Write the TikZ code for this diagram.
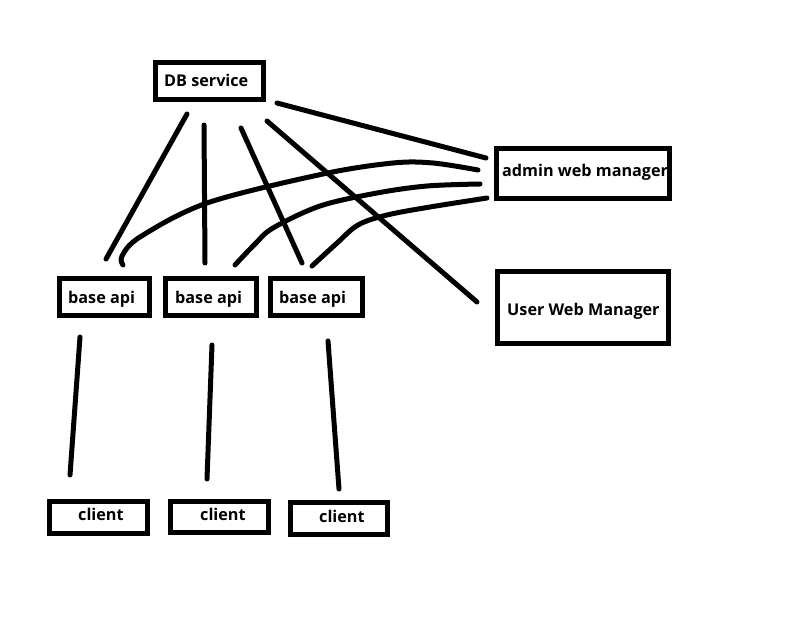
\documentclass[tikz,border=0pt]{standalone}
\usepackage{fontspec}
\setmainfont{Open Sans}
\begin{document}
\begin{tikzpicture}[x=1pt,y=-1pt,
  box/.style={draw=black,line width=5pt,fill=white,inner sep=0pt},
  lbl/.style={font=\fontsize{16.2}{18}\selectfont\bfseries,inner sep=0pt,text=black,anchor=base west},
  link/.style={line width=5pt,line cap=round,line join=round}]
\useasboundingbox[fill=white] (0,0) rectangle (787,632);
% boxes
\node[box,minimum width=108pt,minimum height=37pt] (db) at (209.5,81) {};
\node[box,minimum width=90pt,minimum height=37pt] (b1) at (104.5,297) {};
\node[box,minimum width=91pt,minimum height=37pt] (b2) at (211,297) {};
\node[box,minimum width=92pt,minimum height=37pt] (b3) at (316.5,297) {};
\node[box,minimum width=173pt,minimum height=50pt] (admin) at (583,173.5) {};
\node[box,minimum width=171pt,minimum height=72pt] (user) at (583,307.5) {};
\node[box,minimum width=98pt,minimum height=32pt] (c1) at (98,517.5) {};
\node[box,minimum width=98pt,minimum height=31pt] (c2) at (219,516.5) {};
\node[box,minimum width=97pt,minimum height=32pt] (c3) at (338.5,518.5) {};
% labels
\node[lbl] (tdb) at (164,86) {DB service};
\node[lbl] (tb1) at (68,303) {base api};
\node[lbl] (tb2) at (175,303) {base api};
\node[lbl] (tb3) at (279,303) {base api};
\node[lbl] (tadmin) at (502,176) {admin web manager};
\node[lbl] (tuser) at (507,315) {User Web Manager};
\node[lbl] (tc1) at (78,520) {client};
\node[lbl] (tc2) at (200,520) {client};
\node[lbl] (tc3) at (319,522) {client};
% connector end points
\coordinate (d1) at (187,114); \coordinate (e1) at (106,259);
\coordinate (d2) at (204,125); \coordinate (e2) at (205,263);
\coordinate (d3) at (241,128); \coordinate (e3) at (302,263);
\coordinate (d4) at (267,121); \coordinate (u4) at (477,302);
\coordinate (d5) at (277,103); \coordinate (a5) at (486,158);
\coordinate (s1) at (123,265); \coordinate (a1) at (478,170);
\coordinate (s2) at (235,265); \coordinate (a2) at (480,184);
\coordinate (s3) at (312,266); \coordinate (a3) at (487,198);
\coordinate (p1) at (80,337);  \coordinate (q1) at (70,475);
\coordinate (p2) at (212,345); \coordinate (q2) at (207,479);
\coordinate (p3) at (328,341); \coordinate (q3) at (339,489);
% DB connectors
\draw[link] (d1) -- (e1);
\draw[link] (d2) -- (e2);
\draw[link] (d3) -- (e3);
\draw[link] (d4) -- (u4);
\draw[link] (d5) -- (a5);
% base api to admin curves
\draw[link] plot[smooth,tension=0.55] coordinates {(s1) (122,256) (140,237) (207,203) (323,174) (393,163) (433,163) (a1)};
\draw[link] plot[smooth,tension=0.55] coordinates {(s2) (255,244) (273,228) (320,206) (377,193) (427,186) (a2)};
\draw[link] plot[smooth,tension=0.55] coordinates {(s3) (336,244) (358,225) (387,215) (430,207) (a3)};
% client connectors
\draw[link] (p1) -- (q1);
\draw[link] (p2) -- (q2);
\draw[link] (p3) -- (q3);
\end{tikzpicture}
\end{document}
